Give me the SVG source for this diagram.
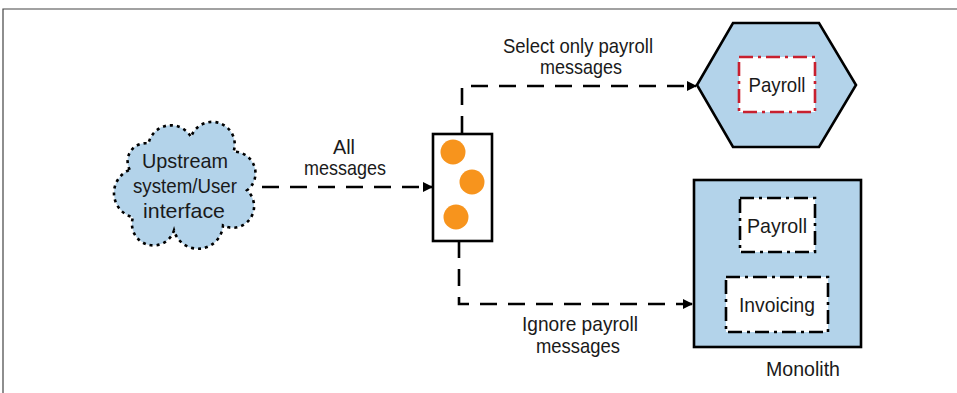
<svg xmlns="http://www.w3.org/2000/svg" width="957" height="393" viewBox="0 0 957 393">
<style>
text{font-family:"Liberation Sans",Arial,sans-serif;font-size:21px;fill:#1a1a1a;text-anchor:middle}
.conn{fill:none;stroke:#000;stroke-width:2.6;stroke-dasharray:17 11}
.blue{fill:#b3d3ea;stroke:#000;stroke-width:2.6}
.inner{fill:#fff;stroke:#000;stroke-width:2.6;stroke-dasharray:14 5 3 5}
</style>
<defs>
<marker id="arr" markerWidth="10" markerHeight="10" refX="9" refY="5" orient="auto" markerUnits="userSpaceOnUse" viewBox="0 0 10 10">
<path d="M0,0 L10,5 L0,10 Z" fill="#000"/>
</marker>
</defs>
<g id="frame"><path d="M3,393 V9 H957" fill="none" stroke="#444" stroke-width="1.2"/></g>
<g id="connectors">
<path class="conn" d="M262,187 H432" marker-end="url(#arr)"/>
<path class="conn" d="M462,133 V86 H696" marker-end="url(#arr)"/>
<path class="conn" d="M459,241 V304 H692" marker-end="url(#arr)"/>
<text x="344" y="154" textLength="22" lengthAdjust="spacingAndGlyphs">All</text>
<text x="345" y="175" textLength="82" lengthAdjust="spacingAndGlyphs">messages</text>
<text x="578" y="53" textLength="150" lengthAdjust="spacingAndGlyphs">Select only payroll</text>
<text x="581" y="74" textLength="82" lengthAdjust="spacingAndGlyphs">messages</text>
<text x="580" y="331" textLength="116" lengthAdjust="spacingAndGlyphs">Ignore payroll</text>
<text x="578" y="353" textLength="84" lengthAdjust="spacingAndGlyphs">messages</text>
</g>
<g id="upstream">
<path d="M129.75,169.8 A18 18 0 0 1 148.5,143.5 A23 23 0 0 1 191,137 A22 22 0 0 1 233.5,151.7 A21.5 21.5 0 0 1 247,190.3 A21.5 21.5 0 0 1 223,225.5 A25 25 0 0 1 174,230.5 A21.5 21.5 0 0 1 133,217.3 A25 25 0 0 1 129.75,169.8 Z" fill="#b3d3ea" stroke="#000" stroke-width="2.6" stroke-dasharray="3 4"/>
<text x="185" y="168" textLength="86" lengthAdjust="spacingAndGlyphs">Upstream</text>
<text x="185" y="193" textLength="104" lengthAdjust="spacingAndGlyphs">system/User</text>
<text x="184" y="218" textLength="82" lengthAdjust="spacingAndGlyphs">interface</text>
</g>
<g id="filter">
<rect x="433" y="134" width="59" height="107" fill="#fff" stroke="#000" stroke-width="2.6"/>
<circle cx="453" cy="152" r="12.5" fill="#f7941d"/>
<circle cx="472" cy="182" r="12.5" fill="#f7941d"/>
<circle cx="456" cy="217" r="12.5" fill="#f7941d"/>
</g>
<g id="payroll-service">
<polygon class="blue" points="697,85 733,23 819,23 856,85 819,147 733,147"/>
<rect x="739" y="57" width="76" height="55" fill="#fff" stroke="#c8202f" stroke-width="2.6" stroke-dasharray="14 5 3 5"/>
<text x="777" y="92" textLength="57" lengthAdjust="spacingAndGlyphs">Payroll</text>
</g>
<g id="monolith">
<rect class="blue" x="694" y="180" width="167" height="167"/>
<rect class="inner" x="740" y="198" width="75" height="54"/>
<text x="777" y="233" textLength="60" lengthAdjust="spacingAndGlyphs">Payroll</text>
<rect class="inner" x="726" y="277" width="102" height="55"/>
<text x="777" y="312" textLength="76" lengthAdjust="spacingAndGlyphs">Invoicing</text>
<text x="803" y="376" textLength="74" lengthAdjust="spacingAndGlyphs">Monolith</text>
</g>
</svg>
